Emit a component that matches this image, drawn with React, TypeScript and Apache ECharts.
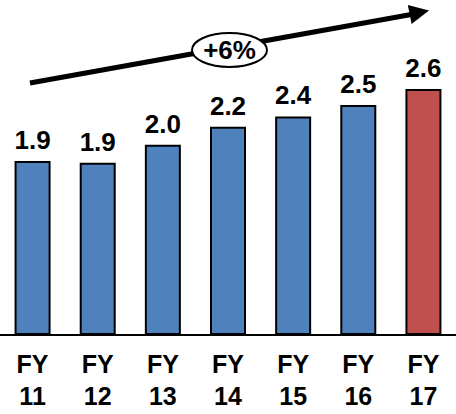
import React, { useEffect, useRef } from "react";
import * as echarts from "echarts";

const categories = ["FY\n11", "FY\n12", "FY\n13", "FY\n14", "FY\n15", "FY\n16", "FY\n17"];
const values = [1.84, 1.82, 2.01, 2.2, 2.31, 2.43, 2.6];
const valueLabels = ["1.9", "1.9", "2.0", "2.2", "2.4", "2.5", "2.6"];
const barColors = ["#4F81BD", "#4F81BD", "#4F81BD", "#4F81BD", "#4F81BD", "#4F81BD", "#C0504D"];
const growthLabel = "+6%";

const FONT = "'Liberation Sans', Arial, sans-serif";

export default function App() {
  const ref = useRef<HTMLDivElement>(null);
  useEffect(() => {
    if (!ref.current) return;
    const chart = echarts.init(ref.current, null, { renderer: "svg" });
    chart.setOption({
      animation: false,
      backgroundColor: "#ffffff",
      grid: { left: -2, right: -6, top: 51.15, bottom: 79, containLabel: false },
      xAxis: {
        type: "category",
        data: categories,
        axisLine: { show: true, lineStyle: { color: "#000", width: 2 } },
        axisTick: { show: false },
        axisLabel: {
          color: "#000",
          fontFamily: FONT,
          fontWeight: "bold",
          fontSize: 25,
          lineHeight: 32,
          margin: 13,
        },
      },
      yAxis: {
        type: "value",
        min: 0,
        max: 3,
        show: false,
        splitLine: { show: false },
      },
      series: [
        {
          type: "bar",
          barWidth: 36,
          data: values.map((v, i) => ({
            value: v,
            itemStyle: { color: barColors[i], borderColor: "#000", borderWidth: 2 },
          })),
          label: {
            show: true,
            position: "top",
            distance: 8,
            color: "#000",
            fontFamily: FONT,
            fontWeight: "bold",
            fontSize: 26,
            formatter: (p: any) => valueLabels[p.dataIndex],
          },
        },
      ],
      graphic: [
        {
          type: "line",
          shape: { x1: 30, y1: 83, x2: 414, y2: 14 },
          style: { stroke: "#000", lineWidth: 5 },
          z: 10,
        },
        {
          type: "polygon",
          shape: { points: [[429, 10.5], [411.6, 24], [407.8, 5]] },
          style: { fill: "#000" },
          z: 10,
        },
        {
          type: "ellipse",
          shape: { cx: 229.5, cy: 50, rx: 37.5, ry: 17 },
          style: { fill: "#fff", stroke: "#000", lineWidth: 2 },
          z: 11,
        },
        {
          type: "text",
          x: 229.5,
          y: 49.5,
          style: {
            text: growthLabel,
            fill: "#000",
            font: `bold 26px ${FONT}`,
            align: "center",
            verticalAlign: "middle",
          },
          z: 12,
        },
      ],
    });
    return () => chart.dispose();
  }, []);
  return (
    <div
      ref={ref}
      style={{ position: "fixed", left: 0, top: 0, width: 456, height: 414 }}
    />
  );
}
